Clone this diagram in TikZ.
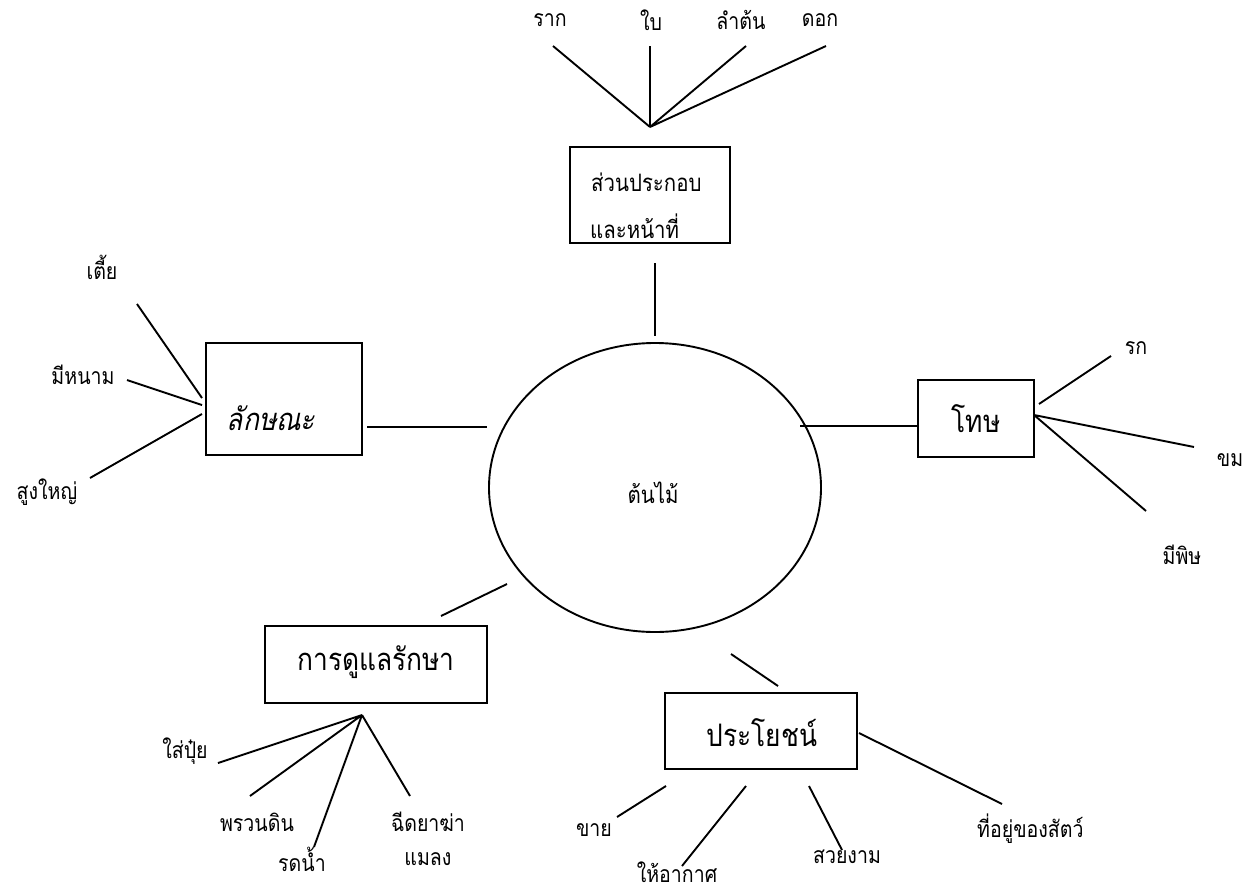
\documentclass[tikz,border=0pt]{standalone}
\usepackage{fontspec}
\setmainfont[Script=Thai,FakeStretch=0.85]{Loma}
\newfontfamily\thaislant[Script=Thai,FakeSlant=0.2,FakeStretch=0.85]{Loma}
\begin{document}
\begin{tikzpicture}[x=1pt,y=-1pt,
  box/.style={draw,line width=1.9pt,inner sep=0pt},
  lbl/.style={font=\fontsize{23}{26}\selectfont,inner sep=0pt},
  mid/.style={font=\fontsize{24}{27}\selectfont,inner sep=0pt},
  big/.style={font=\fontsize{31}{34}\selectfont,inner sep=0pt},
  ln/.style={line width=1.9pt}]
\useasboundingbox (0,0) rectangle (1250,894);
% central ellipse
\draw[ln] (655,487.5) ellipse [x radius=166, y radius=144.5];
\node[mid] (tree) at (653,493) {ต้นไม้};
% top box
\node[box,minimum width=160,minimum height=96] (parts) at (650,195) {};
\node[mid,anchor=west] (parts1) at (591,182) {ส่วนประกอบ};
\node[mid,anchor=west] (parts2) at (590,226) {และหน้าที่};
\coordinate (pt1) at (655,263); \coordinate (pt2) at (655,336);
\draw[ln] (pt1) -- (pt2);
\coordinate (hubT) at (650,127);
\node[lbl] (raak) at (550,20) {ราก};
\node[lbl] (bai) at (651,20) {ใบ};
\node[lbl] (lamton) at (741,20) {ลำต้น};
\node[lbl] (dok) at (820,20) {ดอก};
\coordinate (e1) at (553,46); \coordinate (e2) at (650,46);
\coordinate (e3) at (746,46); \coordinate (e4) at (826,46);
\draw[ln] (hubT) -- (e1) (hubT) -- (e2) (hubT) -- (e3) (hubT) -- (e4);
% left box
\node[box,minimum width=156,minimum height=112] (lak) at (284,399) {};
\node[big] (lakt) at (271,418) {\thaislant ลักษณะ};
\coordinate (c1) at (367,427); \coordinate (c2) at (487,427);
\draw[ln] (c1) -- (c2);
\node[lbl] (tia) at (102,267) {เตี้ย};
\node[lbl] (minam) at (83,375) {มีหนาม};
\node[lbl] (sung) at (47,492) {สูงใหญ่};
\coordinate (l1a) at (137,304); \coordinate (l1b) at (202,398);
\coordinate (l2a) at (127,380); \coordinate (l2b) at (202,405);
\coordinate (l3a) at (90,478); \coordinate (l3b) at (202,414);
\draw[ln] (l1a) -- (l1b) (l2a) -- (l2b) (l3a) -- (l3b);
% right box
\node[box,minimum width=116,minimum height=77] (thot) at (976,418.5) {};
\node[big] (thott) at (976,419) {โทษ};
\coordinate (c3) at (800,426); \coordinate (c4) at (918,426);
\draw[ln] (c3) -- (c4);
\node[lbl] (rok) at (1136,348) {รก};
\node[lbl] (khom) at (1230,460) {ขม};
\node[lbl] (phit) at (1182,555) {มีพิษ};
\coordinate (hubR) at (1034,415);
\coordinate (r1a) at (1039,404); \coordinate (r1b) at (1111,356);
\coordinate (r2) at (1194,447); \coordinate (r3) at (1146,511);
\draw[ln] (r1a) -- (r1b) (hubR) -- (r2) (hubR) -- (r3);
% bottom-left box
\node[box,minimum width=222,minimum height=77] (care) at (376,664.5) {};
\node[big] (caret) at (376,662) {การดูแลรักษา};
\coordinate (c5) at (507,584); \coordinate (c6) at (441,616);
\draw[ln] (c5) -- (c6);
\coordinate (hubC) at (362,715);
\node[lbl] (sai) at (185,751) {ใส่ปุ๋ย};
\node[lbl] (phruan) at (257,822) {พรวนดิน};
\node[lbl] (rot) at (302,859) {รดน้ำ};
\node[lbl] (chit1) at (428,822) {ฉีดยาฆ่า};
\node[lbl] (chit2) at (428,859) {แมลง};
\coordinate (b1) at (218,763); \coordinate (b2) at (250,796);
\coordinate (b3) at (314,847); \coordinate (b4) at (410,796);
\draw[ln] (hubC) -- (b1) (hubC) -- (b2) (hubC) -- (b3) (hubC) -- (b4);
% bottom-right box
\node[box,minimum width=192,minimum height=76] (use) at (761,731) {};
\node[big] (uset) at (762,733) {ประโยชน์};
\coordinate (c7) at (731,654); \coordinate (c8) at (778,686);
\draw[ln] (c7) -- (c8);
\node[lbl] (khai) at (594,830) {ขาย};
\node[lbl] (hai) at (677,872) {ให้อากาศ};
\node[lbl] (suai) at (847,857) {สวยงาม};
\node[lbl,anchor=west] (thiyu) at (977,829) {ที่อยู่ของสัตว์};
\coordinate (u1a) at (666,786); \coordinate (u1b) at (617,817);
\coordinate (u2a) at (746,786); \coordinate (u2b) at (682,866);
\coordinate (u3a) at (809,786); \coordinate (u3b) at (842,850);
\coordinate (u4a) at (859,733); \coordinate (u4b) at (1002,804);
\draw[ln] (u1a) -- (u1b) (u2a) -- (u2b) (u3a) -- (u3b) (u4a) -- (u4b);
\end{tikzpicture}
\end{document}
